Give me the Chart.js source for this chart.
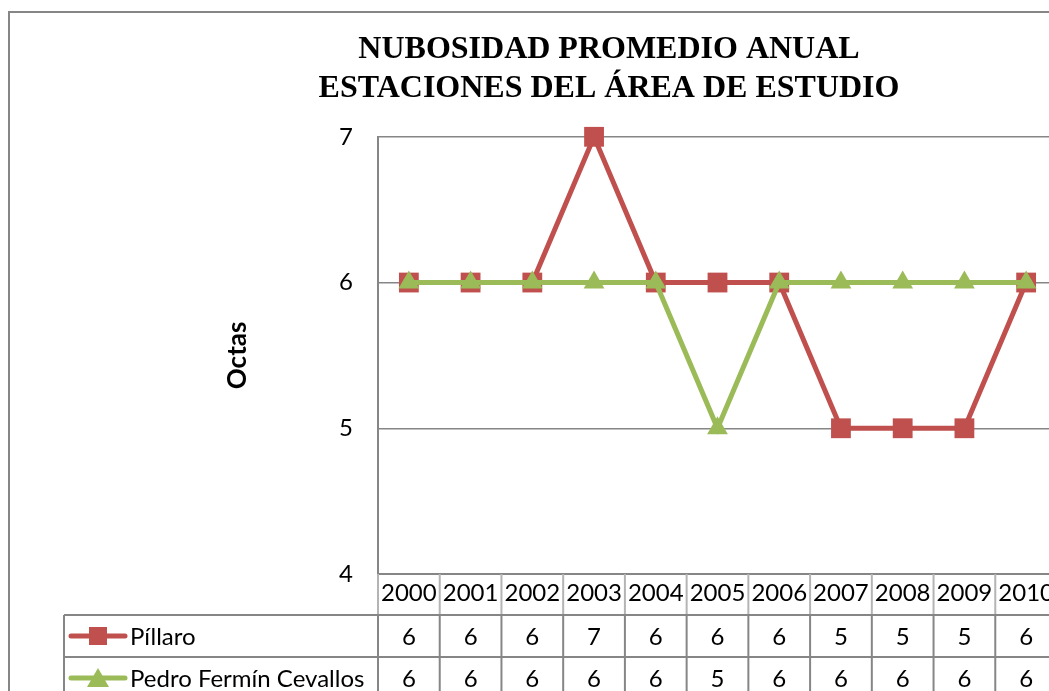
<!DOCTYPE html>
<html>
<head>
<meta charset="utf-8">
<title>Nubosidad promedio anual</title>
<script src="https://cdn.jsdelivr.net/npm/chart.js@4.4.0/dist/chart.umd.min.js"></script>
<style>
  html, body { margin: 0; padding: 0; overflow: hidden; background: #fff; }
  canvas { display: block; }
</style>
</head>
<body>
<canvas id="myChart" width="1100" height="720"></canvas>
<script>
// data
const years = ["2000", "2001", "2002", "2003", "2004", "2005", "2006", "2007", "2008", "2009", "2010"];
const pillaro = [6, 6, 6, 7, 6, 6, 6, 5, 5, 5, 6];
const pedroFermin = [6, 6, 6, 6, 6, 5, 6, 6, 6, 6, 6];
const seriesNames = ["Píllaro", "Pedro Fermín Cevallos"];
const titleLines = ["NUBOSIDAD PROMEDIO ANUAL", "ESTACIONES DEL ÁREA DE ESTUDIO"];
const yTitle = "Octas";

const RED = "#c0504d";
const GREEN = "#9bbb59";
const LINE_GRAY = "#868686";
const bodyFont = "Lato";
const bodySize = 24;

// excel-style data table under the plot, drawn from the x scale
const dataTable = {
  id: "dataTable",
  beforeDraw(chart) {
    const ctx = chart.ctx;
    ctx.save();
    ctx.fillStyle = "#fff";
    ctx.fillRect(0, 0, chart.width, chart.height);
    ctx.restore();
  },
  afterDraw(chart) {
    const ctx = chart.ctx;
    const x = chart.scales.x;
    const step = x.getPixelForValue(1) - x.getPixelForValue(0);
    const half = step / 2;
    const headTop = chart.chartArea.bottom;
    const headBottom = x.bottom;
    const rowH = 42;
    const labelLeft = 64;
    const right = x.getPixelForValue(years.length - 1) + half;
    const rows = [
      { name: seriesNames[0], values: pillaro, color: RED, marker: "rect" },
      { name: seriesNames[1], values: pedroFermin, color: GREEN, marker: "triangle" }
    ];

    ctx.save();
    // header row separators (lighter)
    ctx.strokeStyle = "#b4b4b4";
    ctx.lineWidth = 2;
    for (let i = 0; i <= years.length; i++) {
      const px = x.getPixelForValue(0) - half + i * step;
      ctx.beginPath();
      ctx.moveTo(px, headTop);
      ctx.lineTo(px, headBottom);
      ctx.stroke();
    }

    // body grid
    ctx.strokeStyle = LINE_GRAY;
    ctx.lineWidth = 2;
    for (let r = 0; r <= rows.length; r++) {
      const py = headBottom + r * rowH;
      ctx.beginPath();
      ctx.moveTo(labelLeft, py);
      ctx.lineTo(right, py);
      ctx.stroke();
    }
    const bodyBottom = headBottom + rows.length * rowH;
    ctx.beginPath();
    ctx.moveTo(labelLeft, headBottom);
    ctx.lineTo(labelLeft, bodyBottom);
    ctx.stroke();
    for (let i = 0; i <= years.length; i++) {
      const px = x.getPixelForValue(0) - half + i * step;
      ctx.beginPath();
      ctx.moveTo(px, headBottom);
      ctx.lineTo(px, bodyBottom);
      ctx.stroke();
    }

    // row contents
    ctx.font = bodySize + "px " + bodyFont;
    ctx.textBaseline = "middle";
    rows.forEach((row, r) => {
      const cy = headBottom + r * rowH + rowH / 2;
      // legend key
      ctx.strokeStyle = row.color;
      ctx.fillStyle = row.color;
      ctx.lineWidth = 5;
      ctx.lineCap = "round";
      ctx.beginPath();
      ctx.moveTo(labelLeft + 7, cy);
      ctx.lineTo(labelLeft + 61, cy);
      ctx.stroke();
      const mx = labelLeft + 34;
      if (row.marker === "rect") {
        ctx.fillRect(mx - 9, cy - 9, 18, 18);
      } else {
        ctx.beginPath();
        ctx.moveTo(mx, cy - 10);
        ctx.lineTo(mx + 11, cy + 9);
        ctx.lineTo(mx - 11, cy + 9);
        ctx.closePath();
        ctx.fill();
      }
      ctx.fillStyle = "#000";
      ctx.textAlign = "left";
      ctx.fillText(row.name, labelLeft + 66, cy + 1);
      ctx.textAlign = "center";
      row.values.forEach((v, i) => {
        ctx.fillText(String(v), x.getPixelForValue(i), cy + 1);
      });
    });

    // chart outer border
    ctx.strokeStyle = LINE_GRAY;
    ctx.lineWidth = 2;
    ctx.strokeRect(9, 12, chart.width + 50, chart.height + 50);
    ctx.restore();
  }
};

const ctx = document.getElementById("myChart").getContext("2d");
const myChart = new Chart(ctx, {
  type: "line",
  data: {
    labels: years,
    datasets: [
      {
        label: seriesNames[0],
        data: pillaro,
        borderColor: RED,
        backgroundColor: RED,
        borderWidth: 5,
        pointStyle: "rect",
        pointRadius: 14,
        pointBorderWidth: 0,
        pointBackgroundColor: RED,
        tension: 0,
        clip: false,
        order: 1
      },
      {
        label: seriesNames[1],
        data: pedroFermin,
        borderColor: GREEN,
        backgroundColor: GREEN,
        borderWidth: 5,
        pointStyle: "triangle",
        pointRadius: 12,
        pointBorderWidth: 0,
        pointBackgroundColor: GREEN,
        tension: 0,
        clip: false,
        order: 0
      }
    ]
  },
  options: {
    responsive: false,
    animation: false,
    events: [],
    layout: { padding: { left: 161, right: 43, top: 0, bottom: 105 } },
    plugins: {
      legend: { display: false },
      tooltip: { enabled: false },
      title: {
        display: true,
        text: titleLines,
        color: "#000",
        font: { family: "'Liberation Serif'", size: 32, weight: "bold", lineHeight: 1.2 },
        padding: { top: 31, bottom: 29 }
      }
    },
    scales: {
      x: {
        type: "category",
        offset: true,
        grid: { display: false, drawTicks: false },
        border: { display: true, color: LINE_GRAY, width: 2 },
        ticks: {
          color: "#000",
          font: { family: bodyFont, size: bodySize },
          padding: 5,
          autoSkip: false,
          maxRotation: 0
        },
        afterFit(scale) { scale.height = 41; }
      },
      y: {
        min: 4,
        max: 7,
        ticks: {
          stepSize: 1,
          padding: 25,
          color: "#000",
          font: { family: bodyFont, size: bodySize }
        },
        grid: { color: LINE_GRAY, lineWidth: 1.5, drawTicks: false },
        border: { color: LINE_GRAY, width: 2 },
        title: {
          display: true,
          text: yTitle,
          color: "#000",
          font: { family: bodyFont, size: 26, weight: "bold" },
          padding: { top: 61 }
        },
        afterFit(scale) { scale.width = 217; }
      }
    }
  },
  plugins: [dataTable]
});
</script>
</body>
</html>
